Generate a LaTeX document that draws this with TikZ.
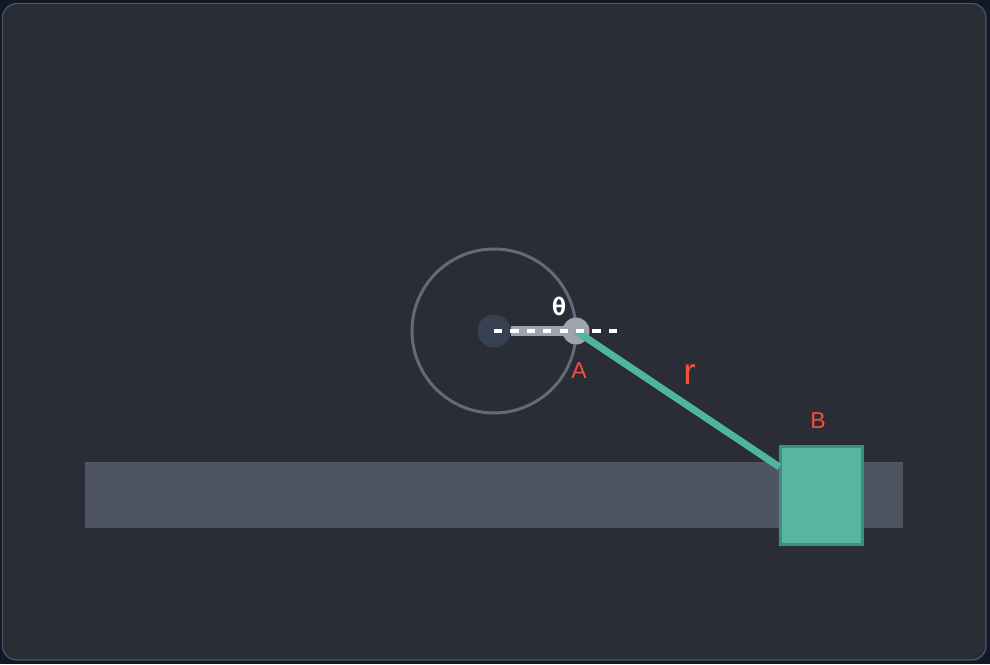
\documentclass[tikz,border=0pt]{standalone}
\usepackage{fontspec}
\setmainfont{Liberation Sans}
\newfontfamily\monofam{DejaVu Sans Mono}
\definecolor{outerbg}{HTML}{111827}
\definecolor{cardbg}{HTML}{2A2D35}
\definecolor{cardline}{HTML}{4B5563}
\definecolor{railcol}{HTML}{4E5462}
\definecolor{orbit}{HTML}{656A77}
\definecolor{hubcol}{HTML}{374151}
\definecolor{crankcol}{HTML}{9FA3B0}
\definecolor{teal}{HTML}{4DB6A0}
\definecolor{blockfill}{HTML}{58B5A2}
\definecolor{blockline}{HTML}{3F8F80}
\definecolor{labelred}{HTML}{F2503F}
\tikzset{
  dot/.style={circle,inner sep=0pt,draw=none},
  lbl/.style={inner sep=0pt,text=labelred,anchor=center},
}
\begin{document}
\begin{tikzpicture}[x=1pt,y=-1pt]
\useasboundingbox (0,0) rectangle (990,664);
\fill[outerbg] (0,0) rectangle (990,664);
\draw[cardline,fill=cardbg,line width=1.2pt,rounded corners=14pt] (2.5,3.5) rectangle (986,660);
\fill[railcol] (85,462) rectangle (903,528);
\draw[orbit,line width=3pt] (494,331) circle[radius=82];
\coordinate (O) at (494,331);
\coordinate (D) at (617,331);
\coordinate (Bt) at (779.5,467);
\node[dot,fill=hubcol,minimum size=33pt] (hub) at (O) {};
\node[dot,fill=crankcol,minimum size=27pt] (A) at (576,331) {};
\draw[crankcol,line width=10pt] (hub.east) -- (A.center);
\node[draw=blockline,fill=blockfill,line width=3pt,minimum width=81.5pt,minimum height=97.5pt,inner sep=0pt] (B) at (821.5,495.5) {};
\draw[teal,line width=7pt] (A.center) -- (Bt);
\draw[white,line width=4.2pt,dash pattern=on 8.2pt off 8.2pt] (O) -- (D);
\node[inner sep=0pt,text=white,font=\monofam\bfseries\fontsize{24pt}{24pt}\selectfont] (theta) at (559,306) {θ};
\node[lbl,font=\fontsize{23pt}{23pt}\selectfont] (la) at (579,371) {A};
\node[lbl,font=\fontsize{23pt}{23pt}\selectfont] (lb) at (818,421) {B};
\node[lbl,font=\fontsize{37pt}{37pt}\selectfont] (lr) at (689.5,374.5) {r};
\end{tikzpicture}
\end{document}
